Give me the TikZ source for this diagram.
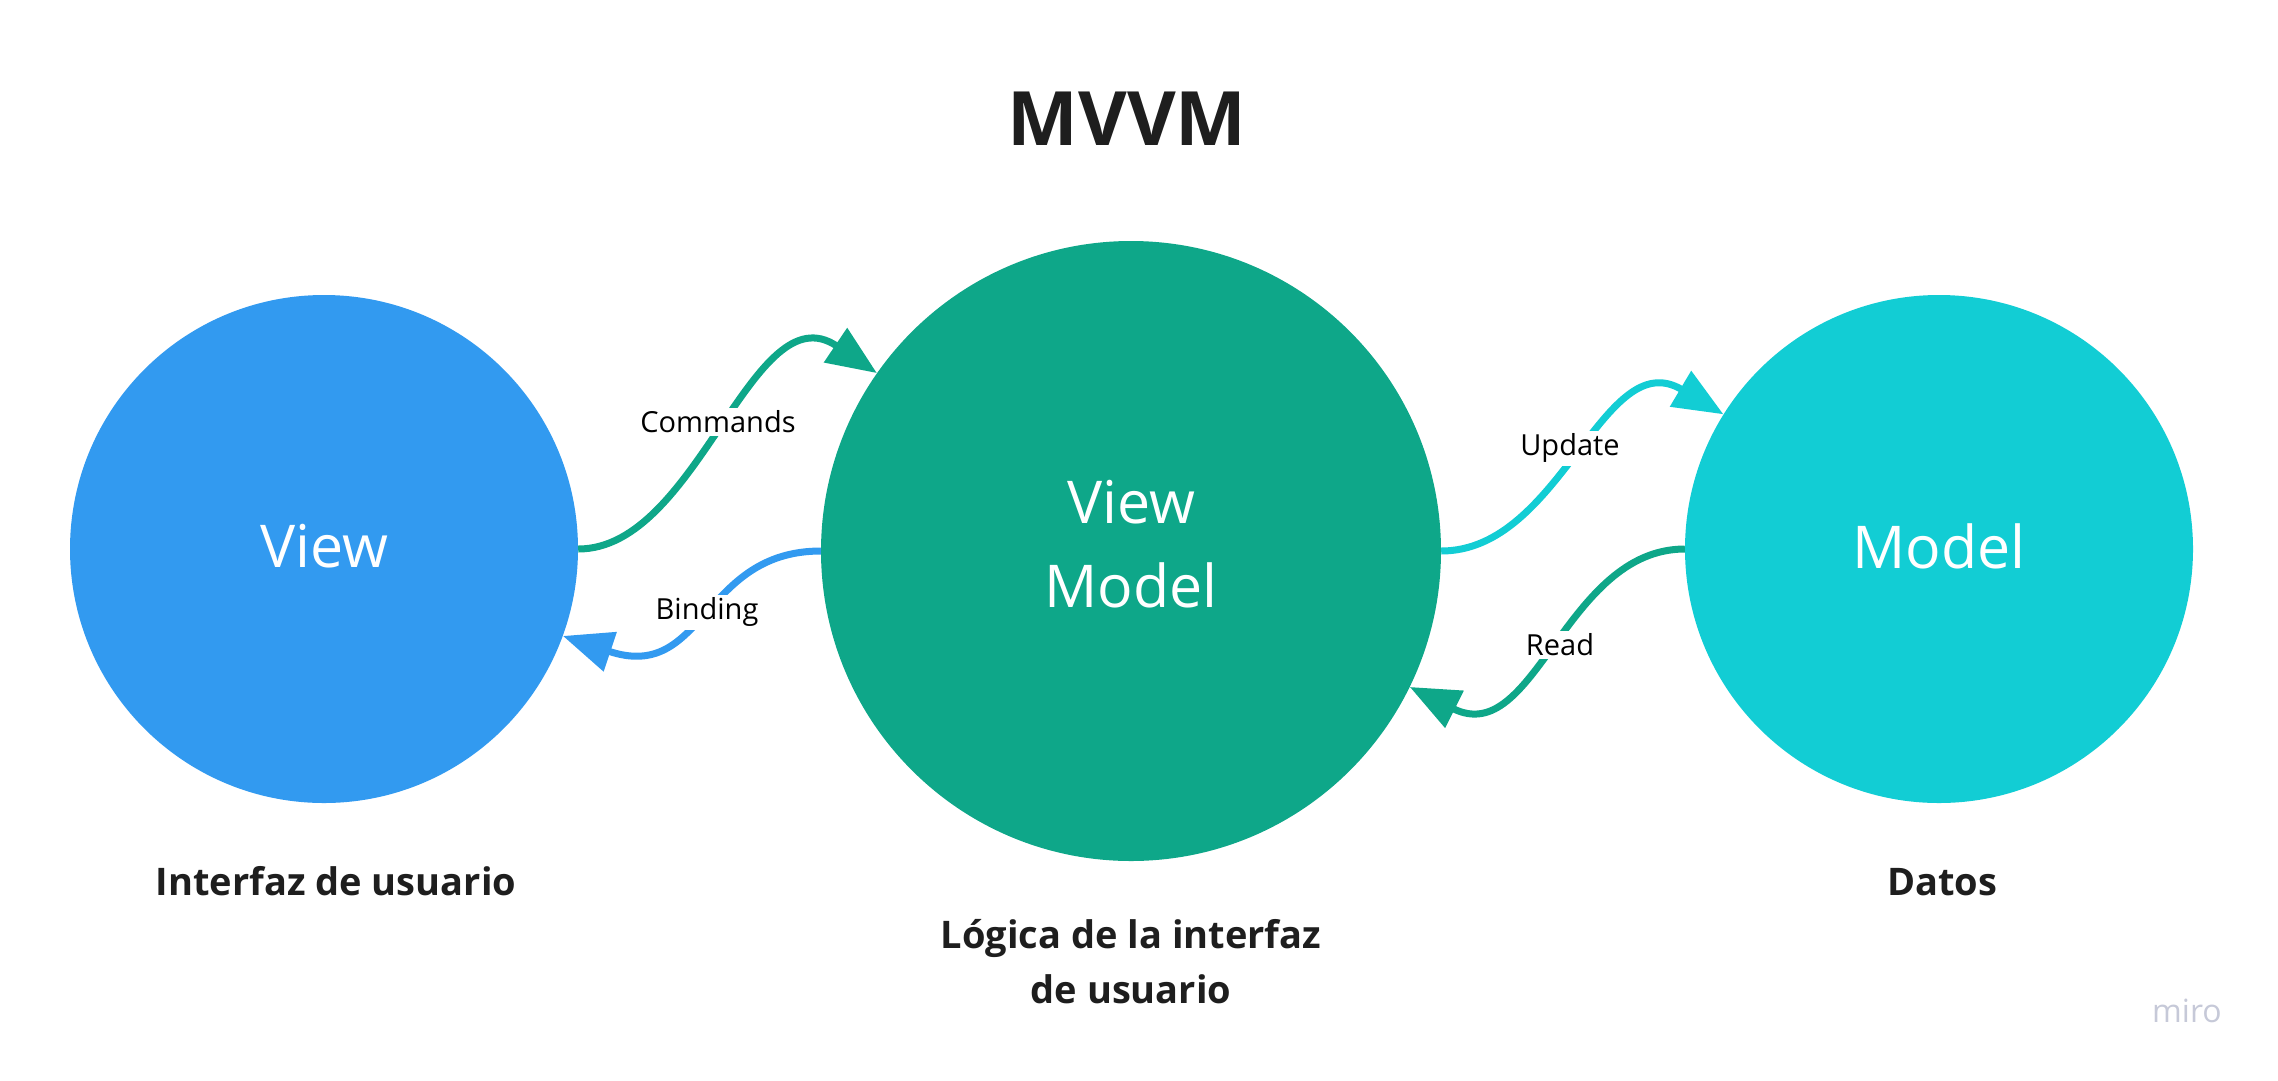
\documentclass[tikz,border=0pt]{standalone}
\usepackage{fontspec}
\setmainfont{Open Sans}
\usetikzlibrary{arrows.meta}
\definecolor{viewc}{RGB}{50,154,240}
\definecolor{vmc}{RGB}{14,167,137}
\definecolor{modelc}{RGB}{18,205,212}
\definecolor{txt}{RGB}{30,30,30}
\definecolor{miroc}{RGB}{198,201,216}
\tikzset{
  bubble/.style={circle, inner sep=0pt},
  bubbletext/.style={text=white, align=center,
    font=\fontsize{59}{84}\selectfont},
  caption/.style={text=txt, align=center, anchor=base,
    font=\bfseries\fontsize{38}{55}\selectfont},
  flow/.style={line width=7pt, -{Triangle[length=50pt,width=40pt]}},
  flowlabel/.style={fill=white, inner sep=3pt, text=black,
    font=\fontsize{29}{34}\selectfont}
}
\begin{document}
\begin{tikzpicture}[x=1pt,y=-1pt]
\useasboundingbox (0,0) rectangle (2278,1080);
\node[anchor=base, text=txt, font=\bfseries\fontsize{75}{80}\selectfont] (title) at (1127,145) {MVVM};

\node[bubble, fill=viewc, minimum size=508pt] (view) at (324,549) {};
\node[bubble, fill=vmc, minimum size=620pt] (vm) at (1131,551) {};
\node[bubble, fill=modelc, minimum size=508pt] (model) at (1939,549) {};
\node[bubbletext] (viewtext) at (324,546) {View};
\node[bubbletext] (vmtext) at (1131,544) {View\\Model};
\node[bubbletext] (modeltext) at (1939,546) {Model};

\draw[flow, draw=vmc] (view.east) .. controls +(120,0) and +(-124.5,-84) .. (vm.145.8);
\draw[flow, draw=viewc] (vm.west) .. controls +(-120,0) and +(142,47.4) .. (view.-20.3);
\draw[flow, draw=modelc] (vm.east) .. controls +(120,0) and +(-120.3,-71.6) .. (model.148.9);
\draw[flow, draw=vmc] (model.west) .. controls +(-120,0) and +(125.2,62.6) .. (vm.-26.1);

\node[flowlabel] (commands) at (718,422) {Commands};
\node[flowlabel] (binding) at (707,612) {Binding};
\node[flowlabel] (update) at (1570,448) {Update};
\node[flowlabel] (read) at (1560,645) {Read};

\node[caption] (ui) at (336,895) {Interfaz de usuario};
\node[caption] (logic) at (1131,1003) {Lógica de la interfaz\\de usuario};
\node[caption] (data) at (1942,895) {Datos};

\node[text=miroc, font=\fontsize{32}{36}\selectfont] (miro) at (2187,1011) {miro};
\end{tikzpicture}
\end{document}
